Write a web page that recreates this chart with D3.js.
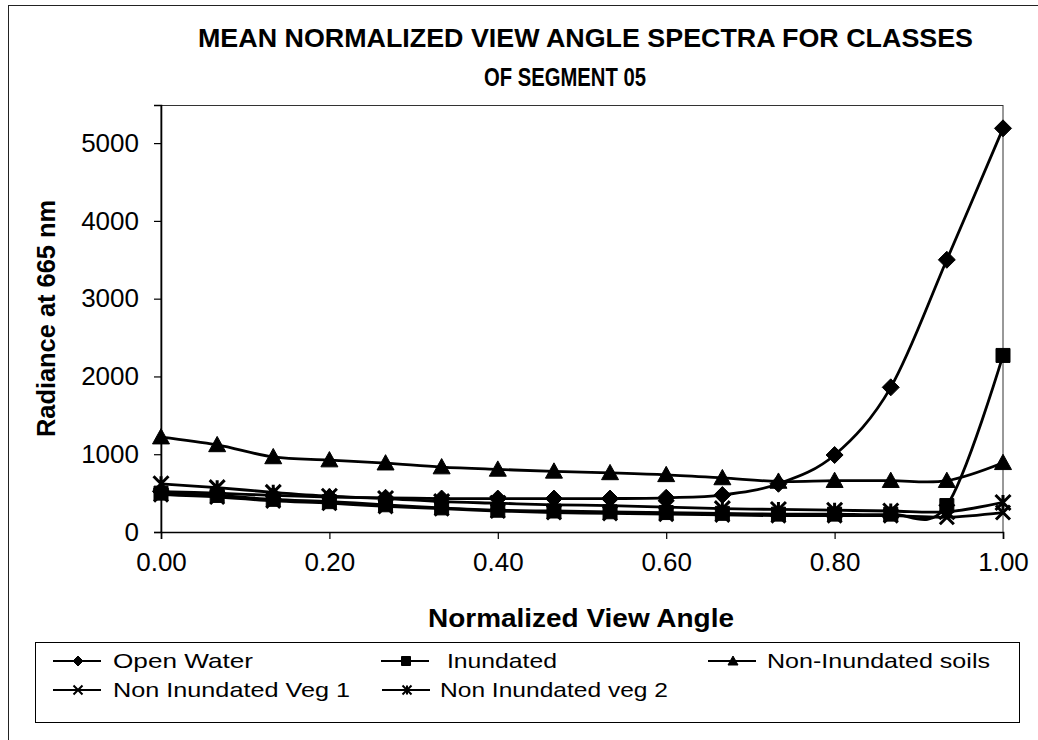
<!DOCTYPE html>
<html>
<head>
<meta charset="utf-8">
<script src="https://cdn.jsdelivr.net/npm/d3@7"></script>
<style>
  html, body { margin: 0; padding: 0; background: #fff; }
  svg { display: block; }
  text { font-family: "Liberation Sans", Arial, Helvetica, sans-serif; fill: #000; }
</style>
</head>
<body>
<svg id="chart" width="1038" height="740"></svg>
<script>
// ---------- data ----------
const viewAngles = [0, 0.0667, 0.1333, 0.2, 0.2667, 0.3333, 0.4, 0.4667, 0.5333, 0.6, 0.6667, 0.7333, 0.8, 0.8667, 0.9333, 1.0];
const openWater   = [520, 500, 470, 450, 440, 430, 430, 430, 430, 440, 475, 620, 990, 1860, 3500, 5190];
const inundated   = [500, 470, 420, 390, 350, 310, 280, 270, 260, 250, 240, 230, 230, 230, 340, 2270];
const nonInSoils  = [1220, 1120, 965, 925, 885, 835, 805, 780, 760, 735, 695, 650, 660, 660, 660, 890];
const nonInVeg1   = [480, 450, 400, 370, 330, 300, 270, 250, 240, 230, 220, 210, 210, 210, 190, 250];
const nonInVeg2   = [620, 570, 510, 460, 430, 390, 370, 350, 340, 320, 300, 290, 280, 270, 260, 380];
const seriesNames = ["Open Water", " Inundated", "Non-Inundated soils", "Non Inundated Veg 1", "Non Inundated veg 2"];
const xTicks = [0, 0.2, 0.4, 0.6, 0.8, 1.0];
const yTicks = [0, 1000, 2000, 3000, 4000, 5000];
const titleLines = ["MEAN NORMALIZED VIEW ANGLE SPECTRA FOR CLASSES", "OF SEGMENT 05"];
const xTitle = "Normalized View Angle";
const yTitle = "Radiance at 665 nm";

const seriesValues = [openWater, inundated, nonInSoils, nonInVeg1, nonInVeg2];
const markerTypes = ["diamond", "square", "triangle", "x", "asterisk"];

// ---------- layout ----------
const svg = d3.select("#chart");
const plot = { left: 161, right: 1003, top: 105, bottom: 532 };

const x = d3.scaleLinear().domain([0, 1]).range([plot.left, plot.right]);
const y = d3.scaleLinear().domain([0, 5490]).range([plot.bottom, plot.top]);

function fit(sel, w) {
  return sel.attr("textLength", w).attr("lengthAdjust", "spacingAndGlyphs");
}

// outer chart border
svg.append("rect").attr("x", 8.5).attr("y", 5.5).attr("width", 1100).attr("height", 800)
  .attr("fill", "none").attr("stroke", "#222").attr("stroke-width", 1);

// plot area border
svg.append("rect").attr("x", plot.left).attr("y", plot.top + 0.5)
  .attr("width", plot.right - plot.left).attr("height", plot.bottom - plot.top)
  .attr("fill", "none").attr("stroke", "#333").attr("stroke-width", 1);

// title
fit(svg.append("text").attr("x", 198).attr("y", 47)
  .attr("font-size", 26).attr("font-weight", "bold").text(titleLines[0]), 775);
fit(svg.append("text").attr("x", 484).attr("y", 86)
  .attr("font-size", 26).attr("font-weight", "bold").text(titleLines[1]), 162);

// axes
const xAxis = d3.axisBottom(x).tickValues(xTicks).tickFormat(d3.format(".2f")).tickSize(7).tickPadding(14);
const gx = svg.append("g").attr("transform", `translate(0,${plot.bottom})`).call(xAxis);
gx.select(".domain").attr("stroke", "#000").attr("stroke-width", 1.6);
gx.selectAll(".tick line").attr("stroke", "#000").attr("stroke-width", 1.2);
gx.selectAll(".tick text").attr("font-size", 26).attr("font-family", null).attr("dy", "0.71em");

const yAxis = d3.axisLeft(y).tickValues(yTicks).tickFormat(d3.format("d")).tickSize(7).tickPadding(15);
const gy = svg.append("g").attr("transform", `translate(${plot.left},0)`).call(yAxis);
gy.select(".domain").attr("stroke", "#000").attr("stroke-width", 1.6);
gy.selectAll(".tick line").attr("stroke", "#000").attr("stroke-width", 1.2);
gy.selectAll(".tick text").attr("font-size", 26).attr("font-family", null);
svg.selectAll(".domain").attr("d", function () { return d3.select(this).attr("d").replace(/M([\d.]+),6V0/, "M$1,0"); });

// axis titles
fit(svg.append("text").attr("x", 428).attr("y", 627)
  .attr("font-size", 25).attr("font-weight", "bold").text(xTitle), 306);
fit(svg.append("text").attr("transform", "translate(55,437) rotate(-90)")
  .attr("font-size", 25).attr("font-weight", "bold").text(yTitle), 237);

// markers
function markerPath(type, s) {
  // s = overall extent in px
  const h = s / 2;
  switch (type) {
    case "diamond": return `M0,${-h}L${h},0L0,${h}L${-h},0Z`;
    case "square": return `M${-h},${-h}H${h}V${h}H${-h}Z`;
    case "triangle": return `M0,${-h}L${h},${h * 0.8}L${-h},${h * 0.8}Z`;
    case "x": return `M${-h},${-h}L${h},${h}M${-h},${h}L${h},${-h}`;
    case "asterisk": return `M${-h},${-h}L${h},${h}M${-h},${h}L${h},${-h}M0,${-h}V${h}`;
  }
}
const filled = { diamond: true, square: true, triangle: true, x: false, asterisk: false };

const line = d3.line().x((d, i) => x(viewAngles[i])).y(d => y(d)).curve(d3.curveCatmullRom.alpha(0));

const plotSizes = { diamond: 17, square: 14, triangle: 17, x: 14, asterisk: 15 };

seriesValues.forEach((vals, si) => {
  const g = svg.append("g");
  g.append("path").attr("d", line(vals)).attr("fill", "none")
    .attr("stroke", "#000").attr("stroke-width", 2.8).attr("stroke-linejoin", "round");
  const t = markerTypes[si];
  g.selectAll("path.m").data(vals).join("path").attr("class", "m")
    .attr("transform", (d, i) => `translate(${x(viewAngles[i])},${y(d)})`)
    .attr("d", markerPath(t, plotSizes[t]))
    .attr("fill", filled[t] ? "#000" : "none")
    .attr("stroke", "#000").attr("stroke-width", filled[t] ? 1 : 3);
});

// legend
svg.append("rect").attr("x", 35.5).attr("y", 642.5).attr("width", 984).attr("height", 80)
  .attr("fill", "#fff").attr("stroke", "#000").attr("stroke-width", 1);

const legendPos = [
  { lx: 53, tx: 113, y: 668, w: 140 },
  { lx: 381, tx: 440, y: 668, w: 117 },
  { lx: 708, tx: 767, y: 668, w: 223 },
  { lx: 53, tx: 113, y: 697, w: 237 },
  { lx: 382, tx: 440, y: 697, w: 228 }
];
const legendSizes = { diamond: 10, square: 9, triangle: 10, x: 9, asterisk: 9 };
seriesNames.forEach((name, si) => {
  const p = legendPos[si];
  const cy = p.y - 7;
  const g = svg.append("g");
  g.append("line").attr("x1", p.lx).attr("x2", p.lx + 48).attr("y1", cy).attr("y2", cy)
    .attr("stroke", "#000").attr("stroke-width", 2.2);
  const t = markerTypes[si];
  g.append("path").attr("transform", `translate(${p.lx + 25},${cy})`)
    .attr("d", markerPath(t, legendSizes[t]))
    .attr("fill", filled[t] ? "#000" : "none")
    .attr("stroke", "#000").attr("stroke-width", filled[t] ? 1 : 2);
  fit(g.append("text").attr("x", p.tx).attr("y", p.y).attr("font-size", 21).attr("xml:space", "preserve").text(name), p.w);
});
</script>
</body>
</html>
